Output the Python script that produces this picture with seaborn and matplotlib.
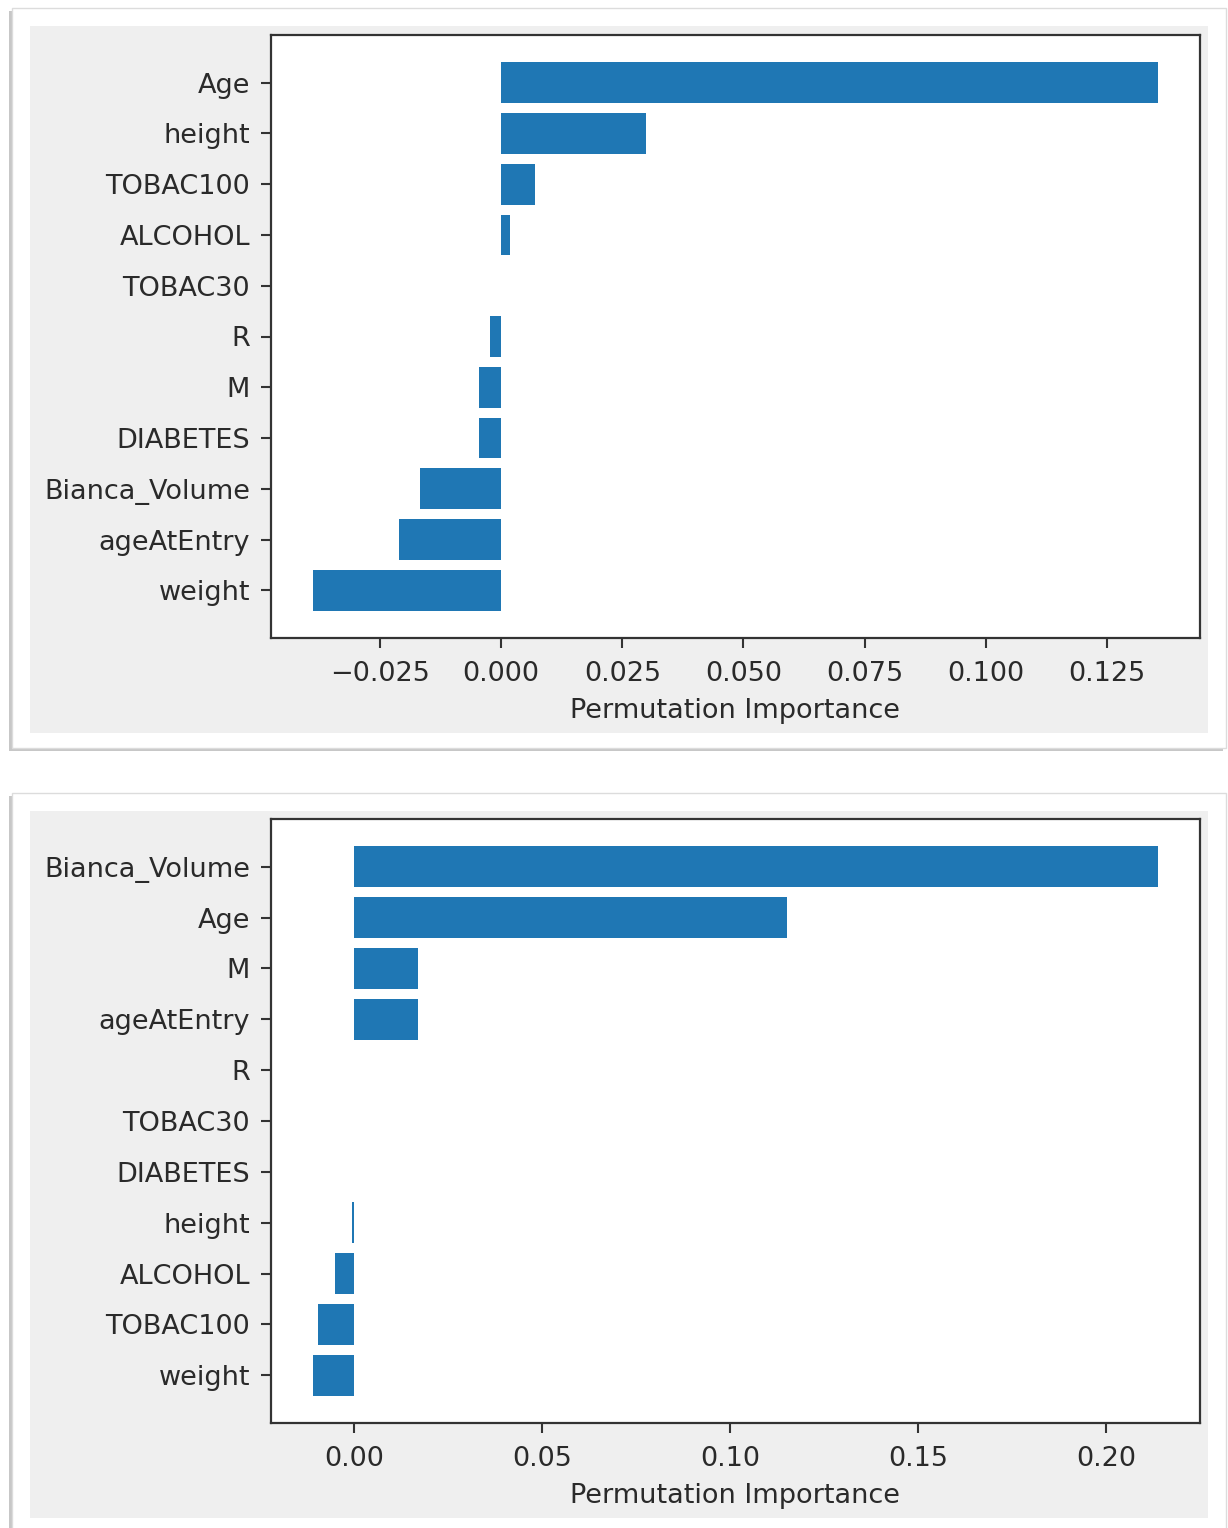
import matplotlib
matplotlib.use("Agg")
import matplotlib.pyplot as plt
from matplotlib.patches import Rectangle
import pandas as pd
import seaborn as sns

# Permutation importance, model 1 (sorted high to low)
features_a = ["Age", "height", "TOBAC100", "ALCOHOL", "TOBAC30", "R", "M",
              "DIABETES", "Bianca_Volume", "ageAtEntry", "weight"]
importance_a = [0.1355, 0.0299, 0.0070, 0.0018, 0.0, -0.0023, -0.0045,
                -0.0045, -0.0167, -0.0210, -0.0388]

# Permutation importance, model 2 (sorted high to low)
features_b = ["Bianca_Volume", "Age", "M", "ageAtEntry", "R", "TOBAC30",
              "DIABETES", "height", "ALCOHOL", "TOBAC100", "weight"]
importance_b = [0.2138, 0.1152, 0.0170, 0.0170, 0.0, 0.0, 0.0, -0.0006,
                -0.0050, -0.0096, -0.0109]

xticks_a = [-0.025, 0.0, 0.025, 0.05, 0.075, 0.1, 0.125]
xticks_b = [0.0, 0.05, 0.10, 0.15, 0.20]

sns.set_style("ticks")
plt.rcParams["font.family"] = ["DejaVu Sans"]

W, H = 1228, 1528
fig = plt.figure(figsize=(W / 100, H / 100), dpi=100)
fig.patch.set_facecolor("white")

TEXT = "#2a2a2a"
BAR = "#1f77b4"


def px_rect(x0, y0, x1, y1, **kw):
    """Rectangle given in pixel coordinates measured from the top-left."""
    r = Rectangle((x0 / W, 1 - y1 / H), (x1 - x0) / W, (y1 - y0) / H,
                  transform=fig.transFigure, **kw)
    fig.add_artist(r)
    return r


def card(y0, y1, gy0, gy1):
    # drop shadow, white card, grey figure panel
    px_rect(9, y0 + 3, 1223, y1 + 3, facecolor="#9a9a9a", edgecolor="none",
            alpha=0.55, zorder=-5)
    px_rect(12, y0, 1226, y1, facecolor="white", edgecolor="#dcdcdc",
            linewidth=1.0, zorder=-4)
    px_rect(30, gy0, 1208, gy1, facecolor="#efefef", edgecolor="none",
            zorder=-3)


card(8, 748, 26, 733)
card(793, 1532, 811, 1518)


def panel(y_top, y_bot, feats, vals, ticks, fmt):
    ax = fig.add_axes([271 / W, 1 - y_bot / H, (1200 - 271) / W,
                       (y_bot - y_top) / H])
    df = pd.DataFrame({"feature": feats, "importance": vals})
    sns.barplot(data=df, x="importance", y="feature", orient="h",
                color=BAR, saturation=1, width=0.8, linewidth=0, ax=ax)
    n = len(feats)
    ax.set_ylim(n - 1 + 0.94, -0.94)
    lo, hi = min(vals), max(vals)
    pad = 0.05 * (hi - lo)
    ax.set_xlim(lo - pad, hi + pad)
    ax.set_xticks(ticks)
    ax.set_xticklabels([fmt.format(t).replace("-", "\u2212") for t in ticks])
    ax.set_ylabel("")
    ax.set_xlabel("Permutation Importance", fontsize=19.5, color=TEXT,
                  labelpad=7.5)
    ax.tick_params(axis="both", labelsize=19.5, labelcolor=TEXT,
                   length=6.9, width=1.5, color="#333333")
    ax.tick_params(axis="x", pad=9.8)
    ax.tick_params(axis="y", pad=8.2)
    ax.set_facecolor("white")
    for s in ax.spines.values():
        s.set_visible(True)
        s.set_linewidth(1.6)
        s.set_color("#333333")
    return ax


panel(35, 638, features_a, importance_a, xticks_a, "{:.3f}")
panel(819, 1423, features_b, importance_b, xticks_b, "{:.2f}")

fig.savefig("out.png", dpi=100, facecolor="white")
